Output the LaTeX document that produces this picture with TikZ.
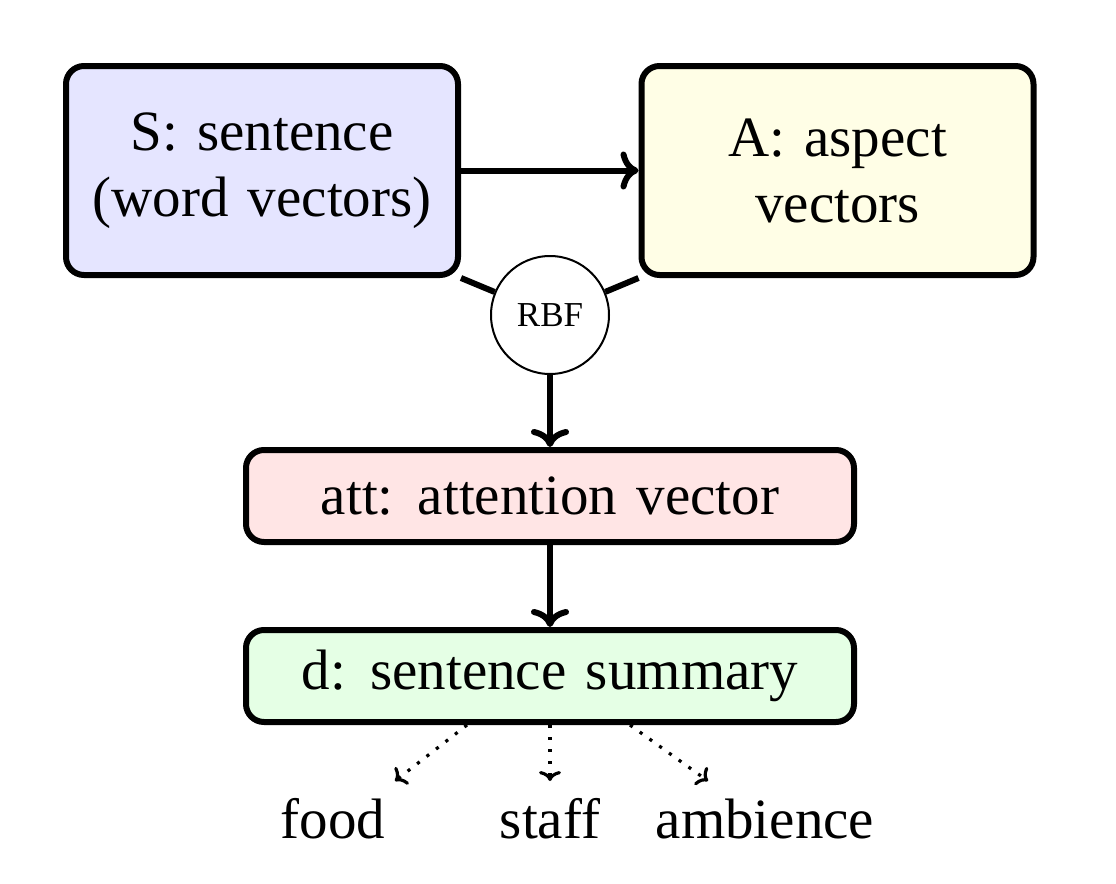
\documentclass[tikz,border=0pt]{standalone}
\usepackage{fontspec}
\setmainfont{Liberation Serif}
\usetikzlibrary{arrows.meta,calc}
\newcommand{\bigtxt}{\fontsize{28.5}{33}\selectfont\spaceskip=0.34em plus 0.1em}
\begin{document}
\begin{tikzpicture}[x=0.5pt,y=-0.5pt,
  box/.style={draw, line width=3pt, rounded corners=9pt, align=center,
    inner sep=0pt, font=\bigtxt},
  bigbox/.style={box, minimum width=196pt, minimum height=104.5pt},
  widebox/.style={box, minimum width=304pt, minimum height=46pt},
  lbl/.style={font=\bigtxt, inner sep=0pt, anchor=base},
  arr/.style={line width=3pt, -{To[length=9pt,width=19pt]}},
  conn/.style={line width=3pt},
  dotarr/.style={line width=1.6pt, dash pattern=on 1.6pt off 4.4pt, -{To[length=5pt,width=11pt]}}
]
\useasboundingbox (0,0) rectangle (1116,884);
\node[bigbox, fill=blue!10] (S) at (262,170.5) {S: sentence\\(word vectors)};
\node[bigbox, fill=yellow!10] (A) at (837.5,170.5) {A: aspect\\vectors};
\node[draw, circle, line width=1pt, minimum size=59pt, inner sep=0pt,
  font=\fontsize{17.5}{18}\selectfont] (rbf) at (550,315) {RBF};
\node[widebox, fill=red!10] (att) at (550,496) {att: attention vector};
\node[widebox, fill=green!10] (d) at (550,676) {d: sentence summary};
\node[lbl] (food) at (333,838) {food};
\node[lbl] (staff) at (550,838) {staff};
\node[lbl] (amb) at (765,838) {ambience};
\coordinate (fe) at (395,781);
\coordinate (se) at (550,781);
\coordinate (ae) at (708,781);
\draw[arr] (S) -- (A);
\draw[conn] (S.south east) -- (rbf);
\draw[conn] (A.south west) -- (rbf);
\draw[arr] (rbf) -- (att);
\draw[arr] (att) -- (d);
\draw[dotarr] ($(d.south)+(-83,0)$) -- (fe);
\draw[dotarr] (d.south) -- (se);
\draw[dotarr] ($(d.south)+(80,0)$) -- (ae);
\end{tikzpicture}
\end{document}
